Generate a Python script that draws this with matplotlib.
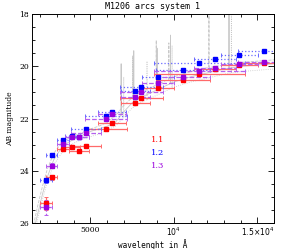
import matplotlib
matplotlib.use("Agg")

import matplotlib.pyplot as plt
import numpy as np
from matplotlib.ticker import FixedLocator, MultipleLocator

# CLASH filters, pivot wavelengths (A) and half widths
filters = ["F225W", "F275W", "F336W", "F390W", "F435W", "F475W", "F606W", "F625W",
           "F775W", "F814W", "F850LP", "F105W", "F110W", "F125W", "F140W", "F160W"]
wavelength = [2359, 2704, 3355, 3921, 4328, 4747, 5921, 6311,
              7692, 8057, 9033, 10552, 11534, 12486, 13923, 15369]
half_width = [370, 320, 350, 450, 620, 900, 1250, 850,
              870, 1300, 960, 1630, 2700, 1250, 1100, 1500]

mag_11 = [25.24, 24.25, 23.18, 23.10, 23.25, 23.06, 22.42, 22.19,
          21.41, 21.22, 20.84, 20.54, 20.31, 20.12, 19.95, 19.87]
err_11 = [0.25, 0.10, 0.05, 0.05, 0.05, 0.05, 0.04, 0.04,
          0.04, 0.04, 0.04, 0.04, 0.04, 0.04, 0.04, 0.04]
mag_12 = [24.37, 23.41, 22.83, 22.66, 22.72, 22.42, 21.92, 21.74,
          20.96, 20.79, 20.40, 20.13, 19.89, 19.71, 19.55, 19.41]
err_12 = [0.10, 0.06, 0.05, 0.04, 0.04, 0.04, 0.04, 0.04,
          0.04, 0.04, 0.04, 0.04, 0.04, 0.04, 0.04, 0.04]
mag_13 = [25.41, 23.81, 22.98, 22.72, 22.70, 22.57, 22.02, 21.83,
          21.17, 20.98, 20.64, 20.39, 20.18, 20.08, 19.92, 19.83]
err_13 = [0.30, 0.10, 0.06, 0.05, 0.05, 0.05, 0.04, 0.04,
          0.04, 0.04, 0.04, 0.04, 0.04, 0.04, 0.04, 0.04]

# best-fit template continua (grey), magnitudes at wavelength nodes
model_wl = [1500, 1800, 2100, 2400, 2800, 3200, 3600, 4000, 4500, 5000, 5500, 6000,
            6500, 7000, 7500, 8000, 9000, 10000, 11000, 12000, 13000, 14000, 15000, 16000]
model_a = [26.6, 25.8, 25.0, 24.3, 23.6, 23.2, 22.95, 22.8, 22.65, 22.5, 22.4, 22.3,
           22.15, 21.75, 21.4, 21.2, 20.9, 20.6, 20.4, 20.25, 20.1, 20.0, 19.95, 19.9]
model_b = [26.4, 25.5, 24.7, 24.0, 23.35, 23.0, 22.8, 22.65, 22.55, 22.4, 22.3, 22.15,
           21.9, 21.5, 21.2, 21.0, 20.7, 20.4, 20.2, 20.05, 19.95, 19.85, 19.8, 19.75]
model_c = [26.8, 26.0, 25.2, 24.5, 23.8, 23.4, 23.1, 22.95, 22.8, 22.7, 22.6, 22.45,
           22.3, 21.95, 21.6, 21.4, 21.1, 20.8, 20.6, 20.45, 20.3, 20.2, 20.15, 20.1]

# emission-line spikes: wavelength and tip magnitude for each template
spikes_a = {"wl": [6850, 7600, 9000, 9800, 13300], "tip": [19.9, 19.4, 19.3, 18.8, 17.0]}
spikes_b = {"wl": [7550, 8950, 9700, 12100], "tip": [19.6, 19.0, 19.1, 17.0]}
spikes_c = {"wl": [7000, 8400, 9900, 13450], "tip": [20.4, 19.8, 19.2, 17.0]}

series = [
    ("1.1", mag_11, err_11, "#ff0000", "#ff6a6a", "-"),
    ("1.2", mag_12, err_12, "#0000ff", "#6a6aff", ":"),
    ("1.3", mag_13, err_13, "#9a00dd", "#b560ee", "--"),
]


def template_curve(nodes_wl, nodes_mag, spikes):
    """Continuum sampled finely, with narrow emission spikes inserted."""
    wl = np.linspace(1500, 16000, 1500)
    mag = np.interp(wl, nodes_wl, nodes_mag)
    for w, tip in zip(spikes["wl"], spikes["tip"]):
        i = np.argmin(np.abs(wl - w))
        mag[i] = tip
    return wl, mag


def main():
    plt.rcParams["font.family"] = ["DejaVu Serif"]
    fig = plt.figure(figsize=(2.91, 2.49), dpi=100)
    ax = fig.add_axes([0.109, 0.105, 0.833, 0.838])

    for nodes, spk, ls in [(model_a, spikes_a, "-"), (model_b, spikes_b, "--"),
                           (model_c, spikes_c, ":")]:
        wl, mag = template_curve(model_wl, nodes, spk)
        ax.plot(wl, mag, color="#c8c8c8", lw=0.6, ls=ls, zorder=1)

    for label, mags, errs, col, ecol, ls in series:
        eb = ax.errorbar(wavelength, mags, xerr=half_width, yerr=errs, fmt="none",
                         ecolor=ecol, elinewidth=0.9, capsize=1.6, capthick=0.7, zorder=2)
        for lc in eb[2]:
            lc.set_linestyle(ls)
        ax.plot(wavelength, mags, "s", color=col, ms=2.8, mec=col, zorder=3)

    for (label, _, _, col, _, _), y in zip(series, [22.83, 23.32, 23.82]):
        ax.text(8650, y, label, color=col, fontsize=6, va="center")

    ax.set_xlim(1500, 16000)
    ax.set_ylim(26, 18)
    ax.xaxis.set_major_locator(FixedLocator([5000, 10000, 15000]))
    ax.set_xticklabels(["5000", r"$10^4$", r"$1.5{\times}10^4$"])
    ax.xaxis.set_minor_locator(MultipleLocator(1000))
    ax.yaxis.set_major_locator(MultipleLocator(2))
    ax.yaxis.set_minor_locator(MultipleLocator(0.5))
    ax.tick_params(which="both", direction="in", top=True, right=True,
                   labelsize=5.5, width=0.6, pad=2)
    ax.tick_params(which="major", length=4)
    ax.tick_params(which="minor", length=2)
    for sp in ax.spines.values():
        sp.set_linewidth(0.7)

    ax.set_title("M1206 arcs system 1", fontsize=6, family="DejaVu Sans Mono", pad=4)
    ax.set_xlabel("wavelenght in Å", fontsize=5.5, family="DejaVu Sans Mono", labelpad=1)
    ax.set_ylabel("AB magnitude", fontsize=5.5, labelpad=4)

    fig.savefig("out.png", dpi=100)
    plt.close(fig)


if __name__ == "__main__":
    main()
